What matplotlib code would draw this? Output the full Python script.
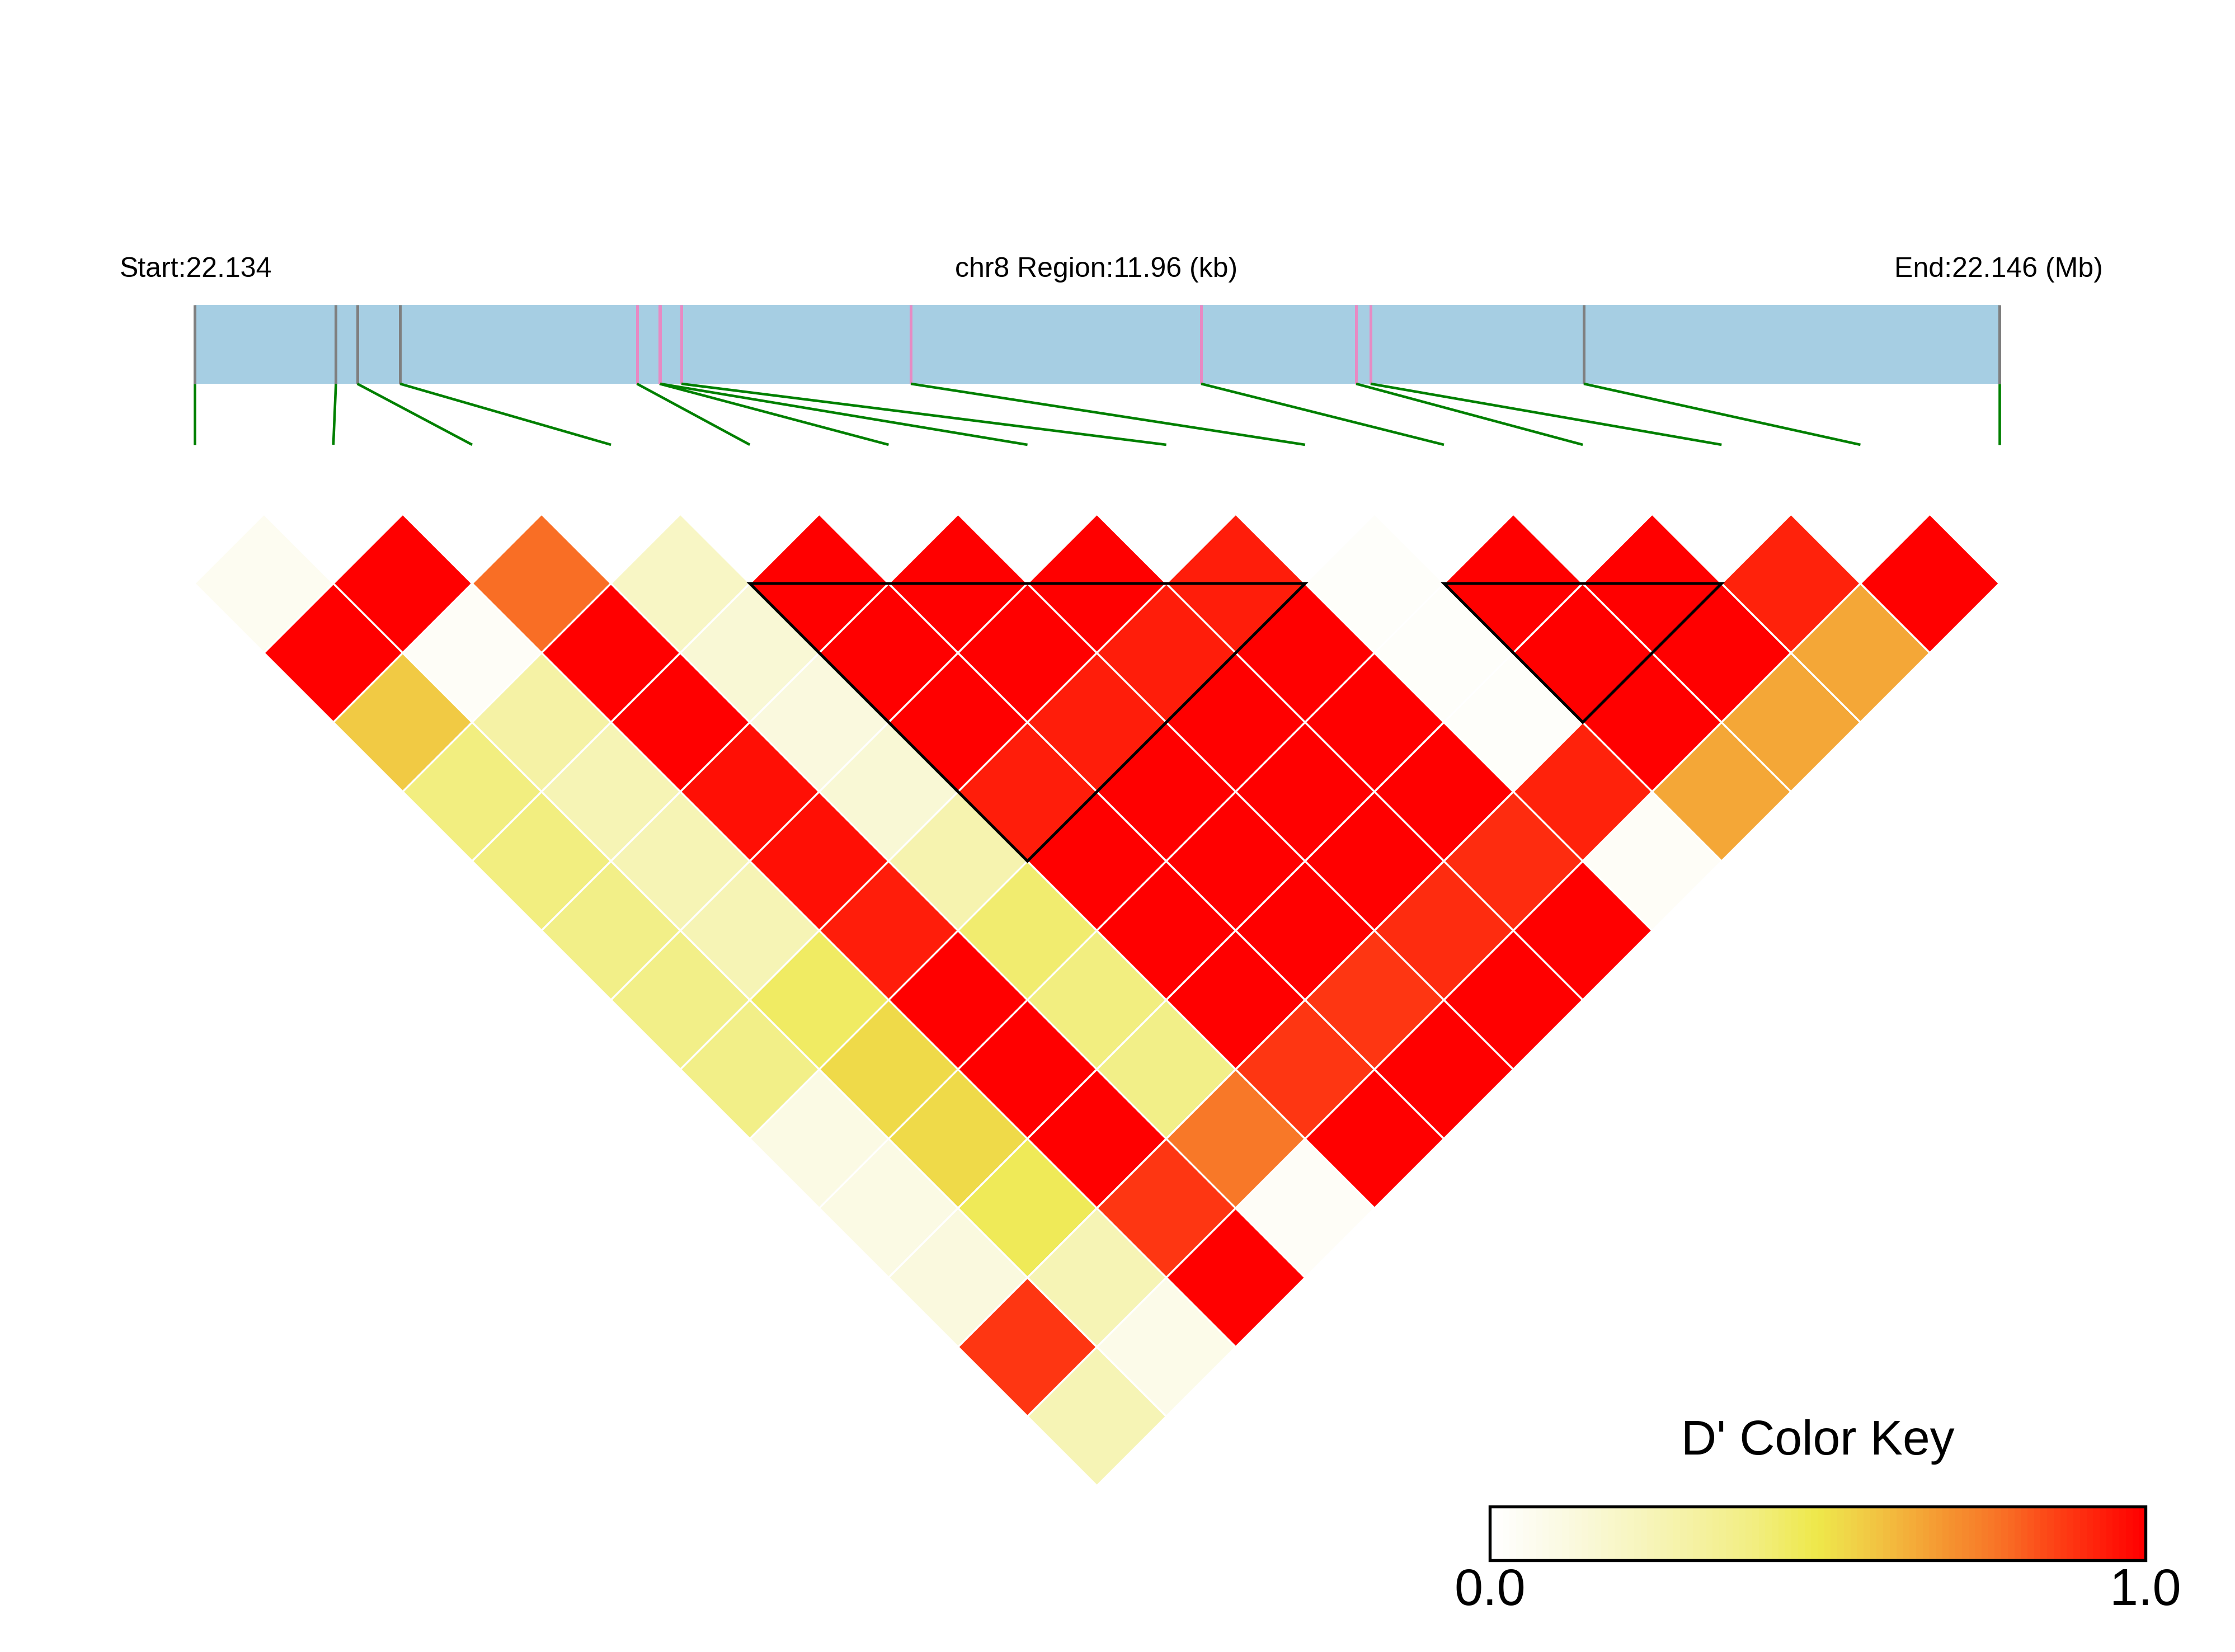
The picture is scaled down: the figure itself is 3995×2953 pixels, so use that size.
import matplotlib
matplotlib.use("Agg")
import matplotlib.pyplot as plt
import numpy as np
from matplotlib.colors import LinearSegmentedColormap
from matplotlib.patches import Polygon, Rectangle

plt.rcParams["font.family"] = ["Liberation Sans", "DejaVu Sans"]

# SNP positions on chr8 (bp)
snp_pos = [22134150, 22135087, 22135229, 22135512, 22137082, 22137232, 22137236,
           22137377, 22138897, 22140821, 22141848, 22141944, 22143357, 22146110]
# pink = highlighted SNPs, grey = others
snp_colour = ["grey"] * 4 + ["pink"] * 8 + ["grey"] * 2

# D' upper triangle, row i holds pairs (i, i+1), (i, i+2), ...
dprime = [
    [0.05, 1.00, 0.58, 0.40, 0.40, 0.38, 0.38, 0.38, 0.10, 0.10, 0.12, 0.88, 0.25],
    [1.00, 0.03, 0.30, 0.25, 0.25, 0.25, 0.45, 0.53, 0.53, 0.47, 0.25, 0.08],
    [0.78, 1.00, 1.00, 0.96, 0.96, 0.93, 1.00, 1.00, 1.00, 0.88, 1.00],
    [0.20, 0.15, 0.12, 0.15, 0.27, 0.43, 0.40, 0.38, 0.76, 0.03],
    [1.00, 1.00, 1.00, 0.93, 1.00, 1.00, 1.00, 0.88, 1.00],
    [1.00, 1.00, 0.93, 1.00, 1.00, 1.00, 0.88, 1.00],
    [1.00, 0.93, 1.00, 1.00, 1.00, 0.90, 1.00],
    [0.93, 1.00, 1.00, 1.00, 0.90, 1.00],
    [0.02, 0.02, 0.02, 0.92, 0.03],
    [1.00, 1.00, 1.00, 0.65],
    [1.00, 1.00, 0.65],
    [0.92, 0.65],
    [1.00],
]

# haplotype blocks (first SNP, last SNP)
blocks = [(4, 8), (9, 11)]

key_stops = [0.0, 0.1, 0.2, 0.3, 0.4, 0.5, 0.55, 0.6, 0.65, 0.7, 0.75, 0.8, 0.85, 0.9, 0.95, 1.0]
key_colours = ["#FFFFFF", "#FBFAE4", "#F8F6C6", "#F5F2A6", "#F2EE82", "#EEE84A", "#F0D448",
               "#F2C040", "#F4AA38", "#F59430", "#F7802A", "#F96823", "#FC4A18", "#FE3010",
               "#FF1808", "#FF0000"]
cmap = LinearSegmentedColormap.from_list("ld", list(zip(key_stops, key_colours)), N=100)

line_colours = {"grey": "#7F7F7F", "pink": "#E78AC3"}

W, H = 3995, 2953
fig = plt.figure(figsize=(W / 300, H / 300), dpi=300)
ax = fig.add_axes([0, 0, 1, 1])
ax.set_xlim(0, W)
ax.set_ylim(H, 0)
ax.axis("off")

# layout (pixel units)
x_left, x_right = 347.7, 3573.6
bar_top, bar_bot = 545, 686
conn_bot = 795
n = len(snp_pos)
step = (x_right - x_left) / (n - 1)
half = step / 2
y_top = 1043
heat_x = x_left + step * np.arange(n)

start, end = snp_pos[0], snp_pos[-1]
phys_x = x_left + (np.array(snp_pos) - start) / (end - start) * (x_right - x_left)

# gene bar
ax.add_patch(Rectangle((x_left, bar_top), x_right - x_left, bar_bot - bar_top,
                       facecolor="#A6CEE3", edgecolor="none"))
for px, hx, c in zip(phys_x, heat_x, snp_colour):
    ax.plot([px, px], [bar_top, bar_bot], color=line_colours[c], lw=1.2, solid_capstyle="butt")
    ax.plot([px, hx], [bar_bot, conn_bot], color="#008000", lw=1.1, solid_capstyle="butt")

ax.text(214, 495, f"Start:{start / 1e6:.3f}", fontsize=12, ha="left", va="baseline")
ax.text(1960, 495, f"chr8 Region:{(end - start) / 1e3:.2f} (kb)", fontsize=12,
        ha="center", va="baseline")
ax.text(3759, 495, f"End:{end / 1e6:.3f} (Mb)", fontsize=12, ha="right", va="baseline")

# LD diamonds
for i, row in enumerate(dprime):
    for k, v in enumerate(row):
        j = i + k + 1
        cx = (heat_x[i] + heat_x[j]) / 2
        cy = y_top + (j - i - 1) * half
        verts = [(cx, cy - half), (cx + half, cy), (cx, cy + half), (cx - half, cy)]
        ax.add_patch(Polygon(verts, closed=True, facecolor=cmap(v), edgecolor="white", lw=0.8))

for a, b in blocks:
    verts = [(heat_x[a], y_top), (heat_x[b], y_top),
             ((heat_x[a] + heat_x[b]) / 2, y_top + (b - a) * half)]
    ax.add_patch(Polygon(verts, closed=True, facecolor="none", edgecolor="black", lw=1.2))

# colour key
kx0, kx1, ky0, ky1 = 2663, 3835, 2693, 2789
edges = np.linspace(kx0, kx1, cmap.N + 1)
for m in range(cmap.N):
    ax.add_patch(Rectangle((edges[m], ky0), edges[m + 1] - edges[m], ky1 - ky0,
                           facecolor=cmap(m), edgecolor="none"))
ax.add_patch(Rectangle((kx0, ky0), kx1 - kx0, ky1 - ky0, facecolor="none",
                       edgecolor="black", lw=1.3))
ax.text((kx0 + kx1) / 2, 2578, "D' Color Key", fontsize=21, ha="center", va="center")
ax.text(kx0, 2845, "0.0", fontsize=22, ha="center", va="center")
ax.text(kx1, 2845, "1.0", fontsize=22, ha="center", va="center")

fig.savefig("out.png", dpi=300)
